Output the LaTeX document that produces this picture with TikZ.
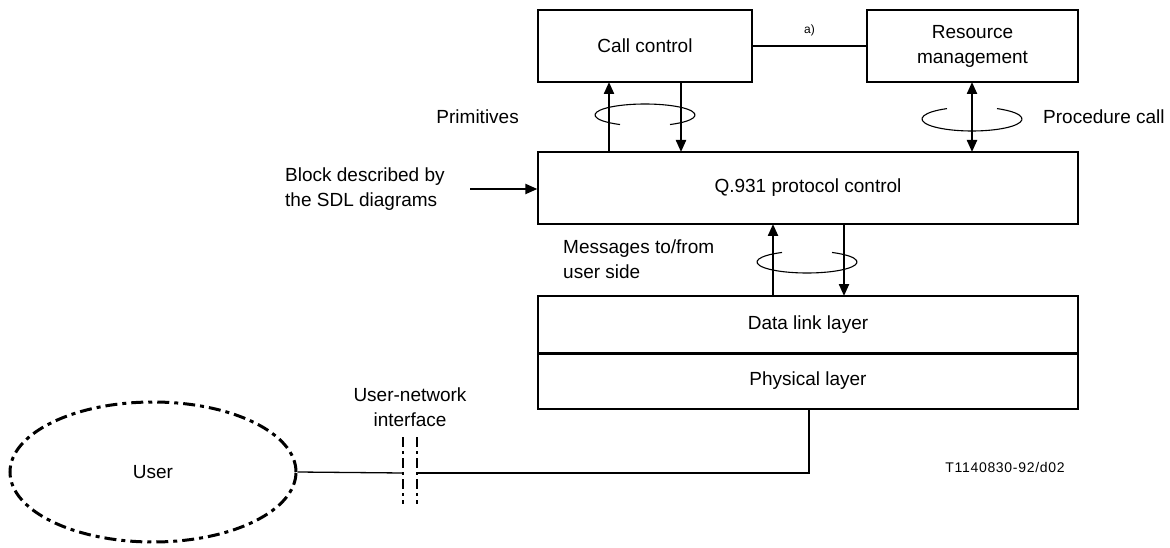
\documentclass[tikz,border=0pt]{standalone}
\usepackage{fontspec}
\setmainfont{Liberation Sans}
\usetikzlibrary{arrows.meta,shapes.geometric}
\begin{document}
\begin{tikzpicture}[x=1pt,y=-1pt,
  lbl/.style={font=\fontsize{19}{25}\selectfont, align=center, inner sep=0pt},
  box/.style={draw, line width=1.3pt, minimum height=72pt, inner sep=0pt, font=\fontsize{19}{25}\selectfont, align=center},
  conn/.style={line width=2.2pt, -{Triangle[length=12pt,width=10pt]}},
  ring/.style={line width=1.1pt},
  dd/.style={line width=2pt, dash pattern=on 10pt off 4pt on 3pt off 4pt}]
\useasboundingbox (0,0) rectangle (1170,548);
% boxes
\node[box, minimum width=214pt] (cc) at (645,46) {Call control};
\node[box, minimum width=211pt] (rm) at (972.5,46) {Resource\\management};
\node[box, minimum width=540pt] (q) at (808,188) {Q.931 protocol control};
\node[box, minimum width=540pt, minimum height=57pt] (dl) at (808,324.5) {Data link layer};
\node[box, minimum width=540pt, minimum height=56pt] (ph) at (808,381) {Physical layer};
\draw[line width=2.2pt] (dl.south west) -- (dl.south east);
% call control - resource
\draw[line width=2pt] (cc.east) -- node[above=9pt, font=\fontsize{12}{14}\selectfont, inner sep=0pt] (a) {a)} (rm.east -| rm.west);
% primitives
\coordinate (pu1) at (609,152); \coordinate (pu2) at (609,82);
\coordinate (pd1) at (681,82); \coordinate (pd2) at (681,152);
\draw[conn] (pu1) -- (pu2);
\draw[conn] (pd1) -- (pd2);
\draw[ring] (645,115) ++(-60:50pt and 11pt) arc[start angle=-60, end angle=240, x radius=50pt, y radius=11pt];
\node[lbl, anchor=east] (prim) at (519,117) {Primitives};
% procedure call
\coordinate (pc1) at (972,82); \coordinate (pc2) at (972,152);
\draw[line width=2.2pt, {Triangle[length=12pt,width=10pt]}-{Triangle[length=12pt,width=10pt]}] (pc1) -- (pc2);
\draw[ring] (972,119) ++(120:50pt and 12pt) arc[start angle=120, end angle=420, x radius=50pt, y radius=12pt];
\node[lbl, anchor=west] (proc) at (1043,117) {Procedure call};
% messages
\coordinate (mu1) at (773,296); \coordinate (mu2) at (773,224);
\coordinate (md1) at (844,224); \coordinate (md2) at (844,296);
\draw[conn] (mu1) -- (mu2);
\draw[conn] (md1) -- (md2);
\draw[ring] (807,262) ++(120:50pt and 11pt) arc[start angle=120, end angle=420, x radius=50pt, y radius=11pt];
\node[lbl, align=left, anchor=west] (msg) at (563,259.5) {Messages to/from\\user side};
% block described
\node[lbl, align=left, anchor=west] (blk) at (285,189.5) {Block described by\\the SDL diagrams};
\coordinate (ba) at (470,189);
\draw[conn] (ba) -- (ba -| q.west);
% user
\node[draw, ellipse, line width=3pt, dash pattern=on 12pt off 5pt on 4pt off 5pt, minimum width=286pt, minimum height=140pt, font=\fontsize{19}{25}\selectfont] (user) at (153,472) {User};
\coordinate (b1) at (403,473); \coordinate (b2) at (417,473);
\coordinate (pdn) at (809,473);
\draw[line width=1.3pt] (user.east) -- (b1);
\draw[line width=1.3pt] (b2) -- (pdn) -- (pdn |- ph.south);
\draw[dd] (403,437) -- (403,504);
\draw[dd] (417,437) -- (417,504);
\node[lbl] (uni) at (410,407) {User-network\\interface};
\node[font=\fontsize{14}{16}\selectfont\addfontfeatures{LetterSpace=5}, inner sep=0pt] (ref) at (1005,467) {T1140830-92/d02};
\end{tikzpicture}
\end{document}
